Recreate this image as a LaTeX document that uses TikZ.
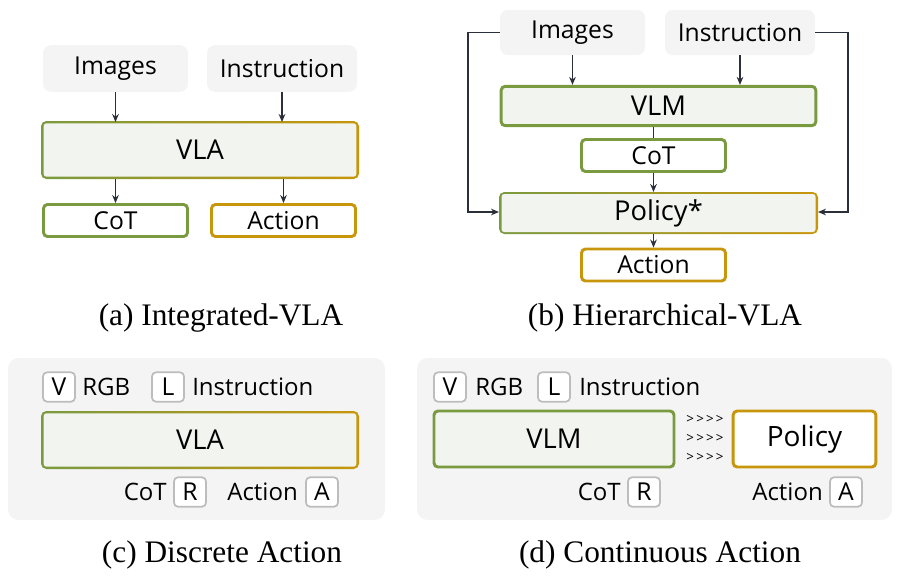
\documentclass[tikz,border=0pt]{standalone}
\usepackage{fontspec}
\setmainfont{Liberation Serif}
\newfontfamily\uifont{Open Sans}
\usetikzlibrary{arrows.meta}
\definecolor{grn}{HTML}{7A9A40}
\definecolor{gld}{HTML}{C8960A}
\definecolor{boxfill}{HTML}{F2F4EF}
\definecolor{panel}{HTML}{F4F4F4}
\definecolor{tagc}{HTML}{BDBDBD}
\definecolor{arr}{HTML}{2A2F3A}
\tikzset{
 px/.style={x=0.75pt,y=-0.75pt},
 inbox/.style={fill=panel,rounded corners=6pt,font=\uifont\fontsize{18.5}{22}\selectfont,inner sep=0pt},
 gbox/.style={draw=grn,line width=2.2pt,fill=boxfill,rounded corners=3pt,font=\uifont\fontsize{18.5}{22}\selectfont,inner sep=0pt},
 obox/.style={draw=gld,line width=2.2pt,fill=white,rounded corners=3pt,font=\uifont\fontsize{18.5}{22}\selectfont,inner sep=0pt},
 wbox/.style={draw=grn,line width=2.2pt,fill=white,rounded corners=3pt,font=\uifont\fontsize{18.5}{22}\selectfont,inner sep=0pt},
 inner/.style={fill=boxfill,rounded corners=2pt,font=\uifont\fontsize{18.5}{22}\selectfont,inner sep=0pt},
 tag/.style={draw=tagc,line width=1.3pt,fill=white,rounded corners=3pt,minimum width=24pt,minimum height=22pt,inner sep=0pt,font=\uifont\fontsize{18.5}{22}\selectfont},
 lbl/.style={font=\uifont\fontsize{18}{22}\selectfont,inner sep=0pt},
 captxt/.style={font=\fontsize{23.5}{28}\selectfont,inner sep=0pt},
 ar/.style={draw=arr,line width=0.9pt,-{Stealth[length=6pt,width=5pt]}},
 ln/.style={draw=arr,line width=0.9pt},
 chev/.style={font=\uifont\fontsize{10}{11}\selectfont,inner sep=0pt},
 big/.style={font=\uifont\fontsize{20.5}{24}\selectfont},
}
\begin{document}
\begin{tikzpicture}[px]
\useasboundingbox (0,0) rectangle (897,578);
% (a)
\node[inbox,minimum width=108.75pt,minimum height=35pt] (aimg) at (115.5,68.5) {Images};
\node[inbox,minimum width=112.5pt,minimum height=35pt] (ains) at (282,68.5) {Instruction};
\shade[left color=grn,right color=gld,rounded corners=4pt] (41,121) rectangle (359,179);
\node[inner,big,minimum width=234.5pt,minimum height=40pt] (avla) at (200,150) {VLA};
\node[wbox,minimum width=108pt,minimum height=24pt] (acot) at (115.5,220.5) {CoT};
\node[obox,minimum width=108pt,minimum height=24pt] (aact) at (283.5,220.5) {Action};
\draw[ar] (aimg.south) -- (aimg.south |- 0,122);
\draw[ar] (ains.south) -- (ains.south |- 0,122);
\draw[ar] (acot.north |- 0,179) -- (acot.north);
\draw[ar] (aact.north |- 0,179) -- (aact.north);
\node[captxt] (capa) at (221,318) {(a) Integrated-VLA};
% (b)
\node[inbox,minimum width=108.75pt,minimum height=34pt] (bimg) at (572.5,32.5) {Images};
\node[inbox,minimum width=112.5pt,minimum height=34pt] (bins) at (740,32.5) {Instruction};
\node[gbox,big,minimum width=236pt,minimum height=29.5pt] (bvlm) at (658.5,106) {VLM};
\node[wbox,minimum width=108pt,minimum height=24pt] (bcot) at (653.5,155.5) {CoT};
\shade[left color=grn,right color=gld,rounded corners=4pt] (499,192) rectangle (818,234);
\node[inner,big,minimum width=235.5pt,minimum height=28.5pt] (bpol) at (658.5,213) {Policy*};
\node[obox,minimum width=108pt,minimum height=24pt] (bact) at (653.5,265) {Action};
\draw[ar] (bimg.south) -- (bimg.south |- bvlm.north);
\draw[ar] (bins.south) -- (bins.south |- bvlm.north);
\draw[ln] (bcot.north |- bvlm.south) -- (bcot.north);
\draw[ar] (bcot.south) -- (bcot.south |- 0,192);
\draw[ar] (bact.north |- 0,234) -- (bact.north);
\draw[ar] (bimg.west) -- (468,32.5) -- (468,212) -- (499,212);
\draw[ar] (bins.east) -- (848,32.5) -- (848,212) -- (818,212);
\node[captxt] (capb) at (665,318) {(b) Hierarchical-VLA};
% (c)
\fill[panel,rounded corners=8pt] (8,358) rectangle (385,520);
\node[tag] (cv) at (59,387) {V};
\node[lbl,anchor=west] (crgb) at (82,387) {RGB};
\node[tag] (cl) at (168,387) {L};
\node[lbl,anchor=west] (cins) at (192,387) {Instruction};
\shade[left color=grn,right color=gld,rounded corners=4pt] (41,411) rectangle (359,469);
\node[inner,big,minimum width=234.5pt,minimum height=40pt] (cvla) at (200,440) {VLA};
\node[lbl,anchor=east] (ccot) at (167,492) {CoT};
\node[tag] (cr) at (190,492) {R};
\node[lbl,anchor=east] (cact) at (298,492) {Action};
\node[tag] (ca) at (322,492) {A};
\node[captxt] (capc) at (222,555) {(c) Discrete Action};
% (d)
\fill[panel,rounded corners=8pt] (417,358) rectangle (892,520);
\node[tag] (dv) at (450,387) {V};
\node[lbl,anchor=west] (drgb) at (475,387) {RGB};
\node[tag] (dl) at (554,387) {L};
\node[lbl,anchor=west] (dins) at (579,387) {Instruction};
\node[gbox,big,minimum width=180pt,minimum height=42pt] (dvlm) at (554,439) {VLM};
\node[obox,minimum width=107pt,minimum height=42pt,font=\uifont\fontsize{21}{25}\selectfont] (dpol) at (804.5,439) {Policy};
\node[chev] (dc1) at (705,419) {>\,>\,>\,>};
\node[chev] (dc2) at (705,438) {>\,>\,>\,>};
\node[chev] (dc3) at (705,457) {>\,>\,>\,>};
\node[lbl,anchor=east] (dcot) at (621,492) {CoT};
\node[tag] (dr) at (644,492) {R};
\node[lbl,anchor=east] (dact) at (823,492) {Action};
\node[tag] (da) at (846,492) {A};
\node[captxt] (capd) at (660,555) {(d) Continuous Action};
\end{tikzpicture}
\end{document}
